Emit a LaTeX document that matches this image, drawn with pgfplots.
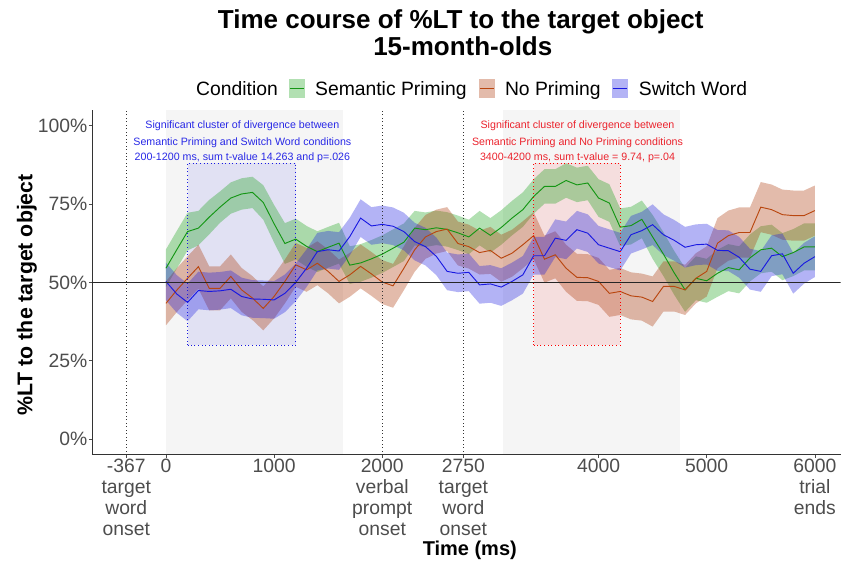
\documentclass[border=0pt]{standalone}
\usepackage{pgfplots}
\pgfplotsset{compat=1.18}
\usepackage{pgfplotstable}
\usepgfplotslibrary{fillbetween}
\usepackage{fontspec}
\setmainfont{Liberation Sans}

\definecolor{gline}{RGB}{20,150,20}
\definecolor{oline}{RGB}{185,70,15}
\definecolor{bline}{RGB}{25,25,225}
\definecolor{gfill}{RGB}{20,160,20}
\definecolor{ofill}{RGB}{170,50,0}
\definecolor{bfill}{RGB}{25,25,225}
\definecolor{bgrect}{RGB}{245,245,245}
\definecolor{ticklab}{RGB}{77,77,77}
\definecolor{annblue}{RGB}{40,40,230}
\definecolor{annred}{RGB}{235,35,45}

% Semantic Priming
\pgfplotstableread{
t m lo hi
0 54.5 48.5 60.5
100 60.4 54.4 66.4
200 66.2 60.2 72.2
300 67.3 61.8 72.8
400 70.8 65.3 76.3
500 74 69 79
600 76.9 71.9 81.9
700 78.2 73.2 83.2
800 78.7 73.7 83.7
900 75.5 70 81
1000 68.7 62.7 74.7
1100 62.4 55.9 68.9
1200 63.8 57.3 70.3
1300 61.5 55 68
1400 59.8 53.3 66.3
1500 61.2 54.7 67.7
1600 62.5 56 69
1700 55.5 49.5 61.5
1800 56.2 50.2 62.2
1900 57.5 51.5 63.5
2000 59 53 65
2100 60.9 54.9 66.9
2200 62.8 56.8 68.8
2300 67.3 61.8 72.8
2400 66.8 61.3 72.3
2500 67.4 61.9 72.9
2600 66.9 61.4 72.4
2700 65.8 60.3 71.3
2800 64.5 59 70
2900 67.3 61.8 72.8
3000 65 59.5 70.5
3100 67.5 62 73
3200 70.5 65 76
3300 73.2 67.7 78.7
3400 77.4 71.9 82.9
3500 80.6 75.1 86.1
3600 80.6 75.1 86.1
3700 82.5 77 88
3800 81.1 75.6 86.6
3900 81.7 76.2 87.2
4000 76.9 70.9 82.9
4100 75.3 69.3 81.3
4200 67.6 61.6 73.6
4300 68.1 62.1 74.1
4400 70.1 64.1 76.1
4500 64.5 57.5 71.5
4600 59 52 66
4700 53 46 60
4800 47.6 40.6 54.6
4900 51.3 44.3 58.3
5000 50.5 43.5 57.5
5100 52.9 45.4 60.4
5200 54.7 47.2 62.2
5300 54 46.5 61.5
5400 57.8 50.3 65.3
5500 60.4 52.9 67.9
5600 60.9 53.4 68.4
5700 58.2 50.7 65.7
5800 59.5 52 67
5900 61.3 53.8 68.8
6000 61.3 53.8 68.8
}\semdata

% No Priming
\pgfplotstableread{
t m lo hi
0 43.3 36.3 50.3
100 47.5 40.5 54.5
200 51.3 44.3 58.3
300 55 48 62
400 48.1 41.1 55.1
500 48.1 41.1 55.1
600 51.9 44.9 58.9
700 47.6 40.6 54.6
800 45 38 52
900 41.7 34.7 48.7
1000 45.5 38.5 52.5
1100 50.3 43.3 57.3
1200 55.6 48.6 62.6
1300 54 47 61
1400 56.1 49.1 63.1
1500 53.5 46.5 60.5
1600 50.3 43.3 57.3
1700 52.4 45.4 59.4
1800 55.1 48.1 62.1
1900 52.7 45.7 59.7
2000 50.1 43.1 57.1
2100 48.9 41.9 55.9
2200 54.5 47.5 61.5
2300 60.4 53.4 67.4
2400 64.5 57.5 71.5
2500 66.2 59.2 73.2
2600 67 60 74
2700 62.4 55.4 69.4
2800 61.4 54.4 68.4
2900 59.5 52.5 66.5
3000 60.2 52.7 67.7
3100 57.7 50.2 65.2
3200 59.3 51.8 66.8
3300 62 54.5 69.5
3400 64.9 57.4 72.4
3500 57.4 49.9 64.9
3600 58.8 51.3 66.3
3700 54.5 47 62
3800 51.6 44.1 59.1
3900 51.5 44 59
4000 50.3 42.8 57.8
4100 46.5 39 54
4200 47.1 39.6 54.6
4300 45.7 38.2 53.2
4400 45.3 37.8 52.8
4500 43.9 35.9 51.9
4600 48.7 40.7 56.7
4700 48.7 40.7 56.7
4800 47.6 39.6 55.6
4900 51.3 43.3 59.3
5000 53.5 45.5 61.5
5100 62.5 54.5 70.5
5200 64.9 56.9 72.9
5300 65.9 57.9 73.9
5400 65.9 57.9 73.9
5500 74 66 82
5600 73.2 65.2 81.2
5700 71.6 63.6 79.6
5800 71.3 63.3 79.3
5900 71.3 63.3 79.3
6000 72.9 64.9 80.9
}\nodata

% Switch Word
\pgfplotstableread{
t m lo hi
0 50.3 44.3 56.3
100 46.3 40.3 52.3
200 43.6 37.6 49.6
300 47.4 41.4 53.4
400 47.1 41.1 53.1
500 47.3 41.3 53.3
600 47.8 41.8 53.8
700 45.5 39.5 51.5
800 44.7 38.7 50.7
900 44.6 38.6 50.6
1000 44.4 38.4 50.4
1100 46.5 40.5 52.5
1200 50 44 56
1300 54.5 48.5 60.5
1400 59.8 53.8 65.8
1500 60.4 54.4 66.4
1600 60 54 66
1700 64.6 58.6 70.6
1800 70.5 64.5 76.5
1900 68 62 74
2000 68.5 62.5 74.5
2100 67.9 61.9 73.9
2200 66.2 60.2 72.2
2300 63 57 69
2400 61.4 55.4 67.4
2500 58.3 52.3 64.3
2600 53.5 47.5 59.5
2700 52.9 46.9 58.9
2800 53.2 47.2 59.2
2900 49.2 43.2 55.2
3000 49.5 43.5 55.5
3100 48.5 42.5 54.5
3200 50.3 44.3 56.3
3300 52.4 46.4 58.4
3400 58.5 52.5 64.5
3500 58.5 52.5 64.5
3600 64.1 58.1 70.1
3700 63.4 57.4 69.4
3800 66.8 60.8 72.8
3900 65.7 59.7 71.7
4000 62 56 68
4100 60.9 54.9 66.9
4200 59.8 53.8 65.8
4300 65.2 59.2 71.2
4400 66.5 60.5 72.5
4500 68.4 61.9 74.9
4600 65.2 58.7 71.7
4700 63.4 56.9 69.9
4800 61.2 54.7 67.7
4900 62 55.5 68.5
5000 62.2 55.7 68.7
5100 60.2 53.7 66.7
5200 60.1 53.6 66.6
5300 58 51.5 64.5
5400 54.2 47.7 60.7
5500 53.5 47 60
5600 58.5 52 65
5700 59.1 52.6 65.6
5800 52.9 46.4 59.4
5900 56.1 49.6 62.6
6000 58.2 51.7 64.7
}\swdata

\begin{document}
\begin{tikzpicture}
\begin{scope}[x=0.75pt,y=-0.75pt,shift={(-69pt,341.25pt)}]
\useasboundingbox (0,0) rectangle (841,565);
\end{scope}

\begin{axis}[
  set layers,
  scale only axis, width=561.75pt, height=258.75pt,
  at={(0pt,0pt)}, anchor=south west,
  xmin=-684, xmax=6238, ymin=-5, ymax=105,
  axis lines*=left,
  axis line style={draw=black!80, line width=0.6pt, -},
  xtick={-367,0,1000,2000,2750,4000,5000,6000},
  xticklabels={{-367\\target\\word\\onset},0,1000,{2000\\verbal\\prompt\\onset},{2750\\target\\word\\onset},4000,5000,{6000\\trial\\ends}},
  ytick={0,25,50,75,100},
  yticklabels={0\%,25\%,50\%,75\%,100\%},
  tick align=outside, major tick length=2.25pt,
  tick style={draw=black!70, line width=0.5pt},
  tick label style={font=\fontsize{14.5}{15.75}\selectfont, text=ticklab},
  xticklabel style={align=center, anchor=north, inner sep=1pt},
  yticklabel style={anchor=east, inner sep=1pt},
]
% shaded windows
\begin{pgfonlayer}{axis background}
\fill[bgrect] (0,-5) rectangle (1633,105);
\fill[bgrect] (3117,-5) rectangle (4750,105);
\fill[bfill, opacity=0.09] (200,30) rectangle (1200,88);
\fill[red, opacity=0.09] (3400,30) rectangle (4200,88);
\end{pgfonlayer}

% ribbons
\addplot[name path=sl, draw=none, forget plot] table[x=t,y=lo]{\semdata};
\addplot[name path=sh, draw=none, forget plot] table[x=t,y=hi]{\semdata};
\addplot[gfill, fill opacity=0.33, draw=none] fill between[of=sl and sh];
\addplot[name path=nl, draw=none, forget plot] table[x=t,y=lo]{\nodata};
\addplot[name path=nh, draw=none, forget plot] table[x=t,y=hi]{\nodata};
\addplot[ofill, fill opacity=0.33, draw=none] fill between[of=nl and nh];
\addplot[name path=wl, draw=none, forget plot] table[x=t,y=lo]{\swdata};
\addplot[name path=wh, draw=none, forget plot] table[x=t,y=hi]{\swdata};
\addplot[bfill, fill opacity=0.33, draw=none] fill between[of=wl and wh];

% means
\addplot[gline, line width=0.7pt, no marks] table[x=t,y=m]{\semdata};
\addplot[oline, line width=0.7pt, no marks] table[x=t,y=m]{\nodata};
\addplot[bline, line width=0.7pt, no marks] table[x=t,y=m]{\swdata};

% reference lines
\draw[black!80, line width=0.6pt, dotted] (-367,-5) -- (-367,105);
\draw[black!80, line width=0.6pt, dotted] (2000,-5) -- (2000,105);
\draw[black!80, line width=0.6pt, dotted] (2750,-5) -- (2750,105);
\draw[black!85, line width=0.8pt] (-684,50) -- (6238,50);
\draw[bline, line width=0.7pt, dotted] (200,30) rectangle (1200,88);
\draw[red, line width=0.7pt, dotted] (3400,30) rectangle (4200,88);
\end{axis}

\begin{scope}[x=0.75pt,y=-0.75pt,shift={(-69pt,341.25pt)}]
% title
\node[anchor=base, font=\fontsize{19.5}{23}\selectfont\bfseries] at (461,29) {Time course of \%LT to the target object};
\node[anchor=base, font=\fontsize{19.5}{23}\selectfont\bfseries] at (463,56) {15-month-olds};
% legend
\node[anchor=base west, inner sep=0pt, font=\fontsize{14.5}{17}\selectfont] at (196,95.5) {Condition};
\fill[gfill, fill opacity=0.33] (289,79) rectangle (305,98);
\draw[gline, line width=0.8pt] (290,88.5) -- (304,88.5);
\node[anchor=base west, inner sep=0pt, font=\fontsize{14.5}{17}\selectfont] at (315,95.5) {Semantic Priming};
\fill[ofill, fill opacity=0.33] (479,79) rectangle (495,98);
\draw[oline, line width=0.8pt] (480,88.5) -- (494,88.5);
\node[anchor=base west, inner sep=0pt, font=\fontsize{14.5}{17}\selectfont] at (505,95.5) {No Priming};
\fill[bfill, fill opacity=0.33] (612,79) rectangle (628,98);
\draw[bline, line width=0.8pt] (613,88.5) -- (627,88.5);
\node[anchor=base west, inner sep=0pt, font=\fontsize{14.5}{17}\selectfont] at (639,95.5) {Switch Word};
% axis titles
\node[anchor=base, rotate=90, inner sep=0pt, font=\fontsize{16}{19}\selectfont\bfseries] at (32.5,295) {\%LT to the target object};
\node[anchor=base, inner sep=0pt, font=\fontsize{15}{18}\selectfont\bfseries] at (470,556) {Time (ms)};
% annotations
\begin{scope}[every node/.style={anchor=base, inner sep=0pt, font=\fontsize{8}{10}\selectfont}]
\node[text=annblue] at (242.5,128.8) {Significant cluster of divergence between};
\node[text=annblue] at (242.5,145.5) {Semantic Priming and Switch Word conditions};
\node[text=annblue] at (242.5,160.5) {200-1200 ms, sum t-value 14.263 and p=.026};
\node[text=annred] at (577.8,128.8) {Significant cluster of divergence between};
\node[text=annred] at (577.8,145.5) {Semantic Priming and No Priming conditions};
\node[text=annred] at (577.8,160.5) {3400-4200 ms, sum t-value = 9.74, p=.04};
\end{scope}
\end{scope}
\end{tikzpicture}
\end{document}
